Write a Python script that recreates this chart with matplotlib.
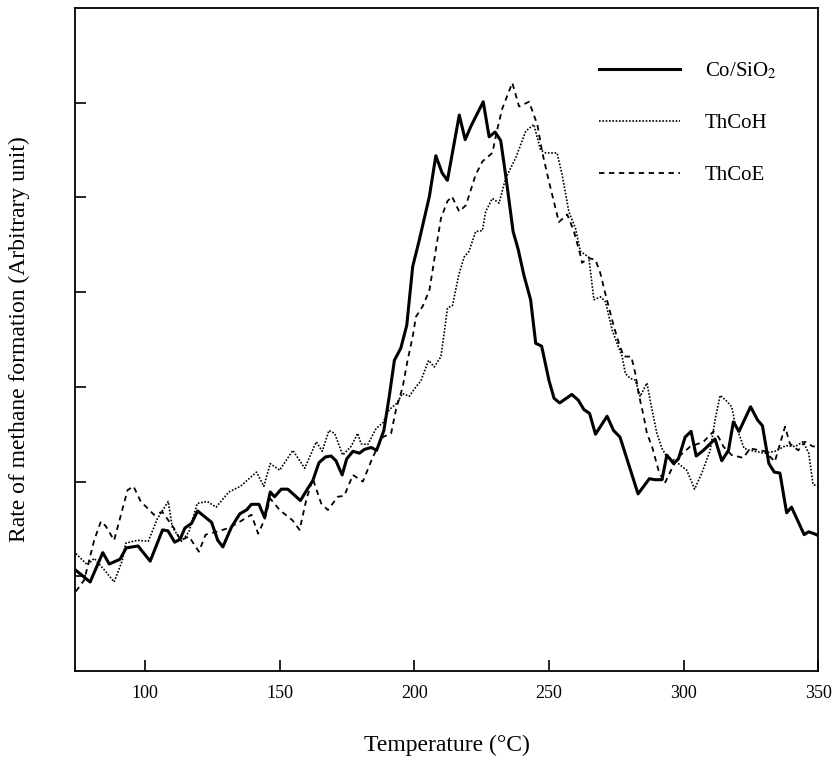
import matplotlib
matplotlib.use("Agg")
import matplotlib.pyplot as plt

plt.rcParams['font.family'] = ['Liberation Serif', 'DejaVu Serif']
plt.rcParams['mathtext.fontset'] = 'stix'

# Co/SiO2 (solid)
co_T = [74.0, 79.6, 84.3, 86.7, 90.7, 93.0, 97.4, 101.9, 106.5, 108.5, 111.0, 113.0, 114.8, 117.3,
        119.5, 124.7, 127.0, 128.9, 132.1, 135.2, 137.7, 139.5, 142.3, 144.4, 146.5, 148.1, 150.6,
        153.0, 157.7, 160.5, 162.3, 164.6, 167.0, 169.1, 170.9, 173.2, 174.9, 177.2, 179.6, 181.5,
        184.0, 186.0, 188.7, 190.7, 192.6, 195.0, 197.2, 199.4, 201.6, 205.6, 208.0, 210.3, 212.3,
        216.7, 218.9, 221.0, 225.6, 227.8, 230.0, 232.1, 234.2, 236.7, 238.6, 240.7, 243.2, 245.1,
        247.3, 250.0, 251.9, 254.0, 258.5, 260.9, 263.0, 265.1, 267.3, 271.6, 274.0, 276.4, 283.1,
        287.3, 289.5, 292.0, 293.8, 296.3, 298.1, 300.6, 302.8, 304.7, 307.4, 311.7, 314.2, 316.7,
        318.5, 320.6, 324.9, 327.5, 329.3, 331.7, 333.7, 335.8, 338.3, 340.1, 344.8, 346.5, 348.5, 350.0]
co_y = [1.07, 0.94, 1.25, 1.13, 1.18, 1.30, 1.32, 1.16, 1.49, 1.48, 1.36, 1.39, 1.51, 1.56,
        1.69, 1.57, 1.38, 1.31, 1.52, 1.66, 1.70, 1.76, 1.76, 1.62, 1.89, 1.84, 1.92,
        1.92, 1.80, 1.93, 2.01, 2.20, 2.26, 2.27, 2.22, 2.07, 2.24, 2.32, 2.30, 2.34,
        2.36, 2.33, 2.54, 2.90, 3.28, 3.41, 3.65, 4.27, 4.52, 5.01, 5.44, 5.26, 5.18,
        5.87, 5.61, 5.75, 6.01, 5.64, 5.69, 5.60, 5.18, 4.64, 4.45, 4.18, 3.92, 3.46,
        3.43, 3.07, 2.88, 2.83, 2.92, 2.86, 2.76, 2.72, 2.50, 2.69, 2.54, 2.47, 1.87,
        2.03, 2.02, 2.02, 2.28, 2.19, 2.24, 2.47, 2.53, 2.27, 2.33, 2.45, 2.22, 2.33,
        2.63, 2.53, 2.79, 2.65, 2.59, 2.19, 2.10, 2.09, 1.67, 1.73, 1.44, 1.47, 1.45, 1.43]

# ThCoH (dotted)
h_T = [74.3, 78.6, 81.1, 85.4, 88.5, 91.6, 92.8, 97.2, 101.2, 104.6, 108.6, 110.1, 113.6, 116.3,
       119.4, 123.1, 126.4, 131.1, 135.4, 141.4, 144.1, 146.5, 150.0, 154.9, 159.3, 163.6, 165.8,
       168.3, 170.4, 173.4, 176.5, 179.0, 180.2, 182.7, 185.8, 188.3, 190.7, 193.6, 195.6, 198.1,
       200.6, 202.4, 205.3, 207.4, 209.9, 211.1, 212.3, 214.2, 216.5, 218.5, 220.3, 222.8, 225.3,
       226.5, 229.0, 231.5, 233.9, 237.7, 241.4, 244.4, 246.9, 248.8, 253.0, 254.9, 257.4, 259.9,
       261.7, 264.8, 266.7, 269.2, 271.0, 273.5, 275.3, 277.2, 278.4, 280.2, 282.1, 283.9, 286.4,
       288.0, 290.1, 292.0, 293.8, 296.3, 301.2, 304.1, 306.8, 309.9, 311.7, 313.6, 316.0, 317.9,
       319.1, 322.5, 324.7, 330.0, 334.0, 338.0, 341.4, 344.4, 346.5, 348.1, 350.0]
h_y = [1.24, 1.12, 1.19, 1.05, 0.94, 1.17, 1.35, 1.38, 1.37, 1.61, 1.79, 1.52, 1.37, 1.47,
       1.77, 1.79, 1.73, 1.89, 1.95, 2.10, 1.95, 2.19, 2.12, 2.33, 2.14, 2.42, 2.32,
       2.54, 2.51, 2.28, 2.37, 2.51, 2.40, 2.39, 2.56, 2.62, 2.76, 2.83, 2.93, 2.90,
       3.00, 3.06, 3.28, 3.21, 3.32, 3.57, 3.83, 3.86, 4.18, 4.37, 4.43, 4.64, 4.65,
       4.85, 4.99, 4.94, 5.20, 5.42, 5.70, 5.77, 5.50, 5.47, 5.47, 5.24, 4.85, 4.67,
       4.43, 4.37, 3.92, 3.95, 3.90, 3.60, 3.46, 3.32, 3.14, 3.09, 3.07, 2.90, 3.04,
       2.80, 2.51, 2.35, 2.26, 2.23, 2.12, 1.92, 2.09, 2.33, 2.65, 2.91, 2.85, 2.79,
       2.62, 2.35, 2.33, 2.30, 2.32, 2.38, 2.37, 2.42, 2.30, 1.97, 1.95]

# ThCoE (dashed)
e_T = [74.3, 77.4, 81.1, 83.6, 85.4, 88.5, 93.5, 95.7, 98.4, 103.3, 106.4, 110.7, 113.2, 116.3,
       120.0, 122.5, 126.5, 131.1, 135.4, 139.5, 142.0, 144.4, 146.5, 150.0, 154.8, 157.4, 159.9,
       162.3, 165.4, 167.9, 171.6, 174.0, 177.2, 180.9, 184.6, 188.3, 191.4, 193.2, 195.7, 197.5,
       199.4, 200.6, 203.1, 205.6, 206.8, 208.0, 209.9, 212.3, 214.0, 216.7, 219.2, 222.8, 225.3,
       229.0, 230.9, 232.7, 236.4, 238.9, 242.6, 245.7, 247.5, 250.0, 253.7, 256.8, 259.3, 261.7,
       262.3, 264.8, 267.3, 269.1, 270.9, 274.1, 276.0, 277.8, 280.6, 282.1, 283.3, 285.2, 286.4,
       288.3, 290.7, 293.0, 295.7, 298.1, 302.5, 307.4, 311.1, 313.0, 314.8, 317.9, 322.2, 324.7,
       330.2, 333.9, 337.7, 339.5, 342.6, 345.1, 348.1, 350.0]
e_y = [0.84, 0.96, 1.38, 1.58, 1.53, 1.38, 1.91, 1.95, 1.79, 1.65, 1.68, 1.51, 1.38, 1.42,
       1.26, 1.44, 1.47, 1.51, 1.58, 1.65, 1.45, 1.60, 1.82, 1.70, 1.59, 1.49, 1.81,
       2.03, 1.77, 1.70, 1.84, 1.85, 2.07, 2.00, 2.26, 2.47, 2.51, 2.76, 3.00, 3.28,
       3.53, 3.74, 3.85, 4.02, 4.23, 4.45, 4.78, 4.96, 5.01, 4.85, 4.92, 5.24, 5.38,
       5.47, 5.73, 5.94, 6.21, 5.96, 6.01, 5.77, 5.48, 5.17, 4.74, 4.82, 4.64, 4.39,
       4.31, 4.36, 4.34, 4.20, 3.99, 3.64, 3.46, 3.32, 3.32, 3.14, 2.93, 2.69, 2.51,
       2.37, 2.12, 1.98, 2.14, 2.26, 2.37, 2.42, 2.53, 2.47, 2.37, 2.28, 2.25, 2.35,
       2.32, 2.21, 2.58, 2.40, 2.33, 2.42, 2.37, 2.38]

labels = ["Co/SiO$_2$", "ThCoH", "ThCoE"]
x_ticks = [100, 150, 200, 250, 300, 350]
y_ticks = [1, 2, 3, 4, 5, 6]

fig = plt.figure(figsize=(8.34, 7.62), dpi=100)
ax = fig.add_axes([0.09, 0.1194, 0.891, 0.8701])

ax.plot(co_T, co_y, color='black', lw=2.2, ls='-', label=labels[0])
ax.plot(h_T, h_y, color='black', lw=1.2, ls=(0, (1, 1)), label=labels[1])
ax.plot(e_T, e_y, color='black', lw=1.3, ls=(0, (3, 2.5)), label=labels[2])

ax.set_xlim(74, 350)
ax.set_ylim(0, 7)
ax.set_xticks(x_ticks)
ax.set_yticks(y_ticks)
ax.set_yticklabels([])
ax.tick_params(axis='both', direction='in', length=8, width=1.2)
ax.tick_params(axis='x', pad=10, labelsize=13)
for s in ax.spines.values():
    s.set_linewidth(1.3)

ax.set_xlabel("Temperature (°C)", fontsize=17, labelpad=24)
ax.set_ylabel("Rate of methane formation (Arbitrary unit)", fontsize=17, labelpad=29)

leg = ax.legend(loc='upper right', bbox_to_anchor=(0.964, 0.943), frameon=False, fontsize=15,
                handlelength=3.9, handletextpad=1.2, labelspacing=1.55, borderaxespad=0.3)

fig.savefig("out.png", dpi=100)
